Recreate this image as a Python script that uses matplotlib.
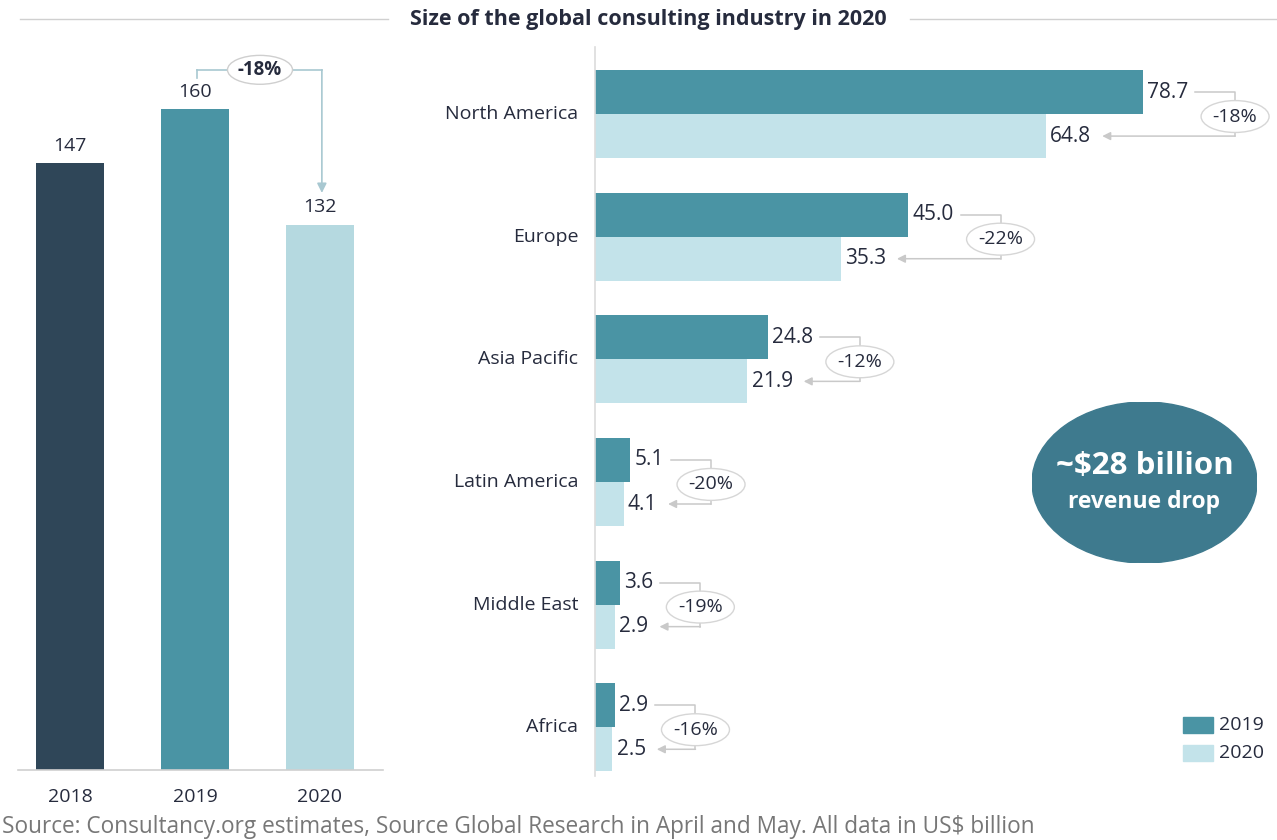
import numpy as np
import matplotlib.pyplot as plt
from matplotlib.patches import Ellipse, Rectangle
from matplotlib.lines import Line2D

plt.rcParams['font.family'] = ['Open Sans', 'DejaVu Sans']

# totals by year
years = ["2018", "2019", "2020"]
totals = [147, 160, 132]
total_change = "-18%"

# regional split
regions = ["North America", "Europe", "Asia Pacific", "Latin America", "Middle East", "Africa"]
rev_2019 = [78.7, 45.0, 24.8, 5.1, 3.6, 2.9]
rev_2020 = [64.8, 35.3, 21.9, 4.1, 2.9, 2.5]
changes = ["-18%", "-22%", "-12%", "-20%", "-19%", "-16%"]

title = "Size of the global consulting industry in 2020"
source = "Source: Consultancy.org estimates, Source Global Research in April and May. All data in US$ billion"

DARK = "#2f4658"
TEAL = "#4a94a4"
LIGHT = "#b5d9e0"
LIGHT_R = "#c3e3ea"
TEXT = "#262b3d"
GREY = "#c9c9c9"

W, H = 1277, 840
fig = plt.figure(figsize=(W / 100, H / 100), dpi=100)


def px(x0, y0, x1, y1):
    # pixel box (top-left origin) -> figure fraction rect
    return [x0 / W, 1 - y1 / H, (x1 - x0) / W, (y1 - y0) / H]


# ---- left panel: totals ----
axL = fig.add_axes(px(7.5, 50, 382.5, 770))
xL = np.arange(len(years))
axL.bar(xL, totals, width=0.545, color=[DARK, TEAL, LIGHT])
axL.set_xlim(-0.5, 2.5)
axL.set_ylim(0, 174.3)
axL.axis("off")
for x, v in zip(xL, totals):
    axL.text(x, v + 2.0, f"{v}", ha="center", va="bottom", fontsize=14, color=TEXT)
for x, y in zip(xL, years):
    axL.text(x, -6.6, y, ha="center", va="center", fontsize=14, color=TEXT)
axL.plot([-0.42, 2.5], [0, 0], color="#d0d0d0", lw=1.2, clip_on=False)

# bracket from 2019 to 2020
y_br = totals[1] + 9.5
axL.plot([xL[1] + 0.015, xL[1] + 0.015], [totals[1] + 7.5, y_br], color="#a8c8d1", lw=1.2)
axL.plot([xL[1] + 0.015, xL[2] + 0.015], [y_br, y_br], color="#a8c8d1", lw=1.2)
axL.annotate("", xy=(xL[2] + 0.015, totals[2] + 7.7), xytext=(xL[2] + 0.015, y_br),
             arrowprops=dict(arrowstyle="-|>", color="#a8c8d1", lw=1.2, mutation_scale=14,
                             shrinkA=0, shrinkB=0))
axL.add_patch(Ellipse((1.52, y_br), 0.52, 7.0, facecolor="white", edgecolor="#cfcfcf", lw=1.0,
                      zorder=3, clip_on=False))
axL.text(1.52, y_br, total_change, ha="center", va="center", fontsize=13.5, fontweight="bold",
         color=TEXT, zorder=4)

# ---- right panel: regions ----
axR = fig.add_axes(px(595, 40, 1270, 780))
yR = np.arange(len(regions))
bh = 0.359
axR.barh(yR - bh / 2, rev_2019, height=bh, color=TEAL)
axR.barh(yR + bh / 2, rev_2020, height=bh, color=LIGHT_R)
axR.set_xlim(0, 97.0)
axR.set_ylim(5.43, -0.604)
axR.axis("off")
axR.plot([0, 0], [-0.55, 5.4], color="#dcdcdc", lw=1.2, clip_on=False)

for y, name in zip(yR, regions):
    axR.text(-2.4, y, name, ha="right", va="center", fontsize=14, color=TEXT)

lab19, lab20 = [], []
for y, a, b in zip(yR, rev_2019, rev_2020):
    lab19.append(axR.text(a + 0.6, y - bh / 2, f"{a:.1f}", ha="left", va="center",
                          fontsize=15, color=TEXT))
    lab20.append(axR.text(b + 0.6, y + bh / 2, f"{b:.1f}", ha="left", va="center",
                          fontsize=15, color=TEXT))

# change brackets need the rendered label extents
fig.canvas.draw()
inv = axR.transData.inverted()
sx = axR.transData.transform((1, 0))[0] - axR.transData.transform((0, 0))[0]
for y, t19, t20, ch in zip(yR, lab19, lab20, changes):
    e19 = t19.get_window_extent()
    e20 = t20.get_window_extent()
    x_start = inv.transform((e19.x1 + 7, 0))[0]
    x_vert = x_start + 40 / sx
    x_end = inv.transform((e20.x1 + 11, 0))[0]
    y19, y20 = y - bh / 2, y + bh / 2
    axR.plot([x_start, x_vert, x_vert], [y19, y19, y20], color=GREY, lw=1.1)
    axR.annotate("", xy=(x_end, y20), xytext=(x_vert, y20),
                 arrowprops=dict(arrowstyle="-|>", color=GREY, lw=1.1, mutation_scale=12,
                                 shrinkA=0, shrinkB=0))
    axR.add_patch(Ellipse((x_vert, y + 0.02), 68 / sx, 0.26, facecolor="white",
                          edgecolor="#d6d6d6", lw=1.0, zorder=3, clip_on=False))
    axR.text(x_vert, y + 0.02, ch, ha="center", va="center", fontsize=14, color=TEXT, zorder=4)

# headline bubble
bubble_ax = fig.add_axes(px(1032, 402, 1257, 563))
bubble_ax.set_xlim(0, 1)
bubble_ax.set_ylim(0, 1)
bubble_ax.axis("off")
bubble_ax.add_patch(Ellipse((0.5, 0.5), 1.0, 1.0, color="#3e7a8e"))
bubble_ax.text(0.5, 0.6, "~$28 billion", ha="center", va="center", fontsize=22.5,
               fontweight="bold", color="white")
bubble_ax.text(0.5, 0.38, "revenue drop", ha="center", va="center", fontsize=16.5,
               fontweight="bold", color="white")

# legend
for yy, col, lab in [(717, TEAL, "2019"), (745, LIGHT_R, "2020")]:
    fig.patches.append(Rectangle((1183 / W, 1 - (yy + 16) / H), 30 / W, 16 / H,
                                 transform=fig.transFigure, color=col))
    fig.text(1219 / W, 1 - (yy + 8) / H, lab, ha="left", va="center", fontsize=14, color=TEXT)

# title with side rules
fig.text(648 / W, 1 - 19 / H, title, ha="center", va="center", fontsize=15.5,
         fontweight="bold", color=TEXT)
fig.add_artist(Line2D([20 / W, 388 / W], [1 - 19 / H, 1 - 19 / H], color="#d0d0d0", lw=1))
fig.add_artist(Line2D([910 / W, 1277 / W], [1 - 19 / H, 1 - 19 / H], color="#d0d0d0", lw=1))

fig.text(2 / W, 1 - 827 / H, source, ha="left", va="center", fontsize=16.3, color="#777777")

fig.savefig("out.png", dpi=100, facecolor="white")
